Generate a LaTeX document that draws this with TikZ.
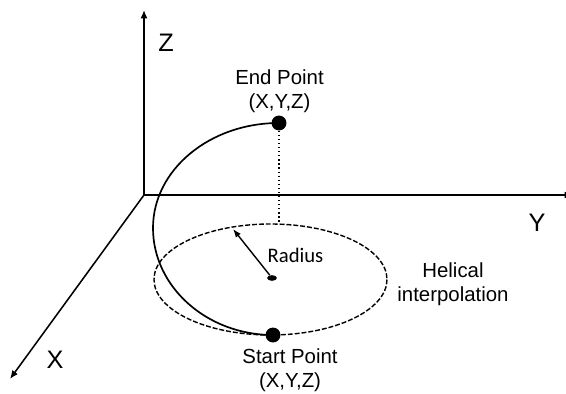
\documentclass[tikz,border=0pt]{standalone}
\usepackage{fontspec}
\setmainfont{Liberation Sans}
\newfontfamily\radiusfont{Carlito}
\usetikzlibrary{arrows.meta, shapes.geometric}
\tikzstyle{axis} = [line width=1.1pt,-{Latex[length=6pt,width=5pt]}]
\tikzstyle{lbl} = [inner sep=0pt, font=\fontsize{14.5}{17.2}\selectfont, align=center]
\tikzstyle{axlbl} = [inner sep=0pt, font=\fontsize{18}{20}\selectfont]
\tikzstyle{dot} = [circle, fill=black, inner sep=0pt, minimum size=10.6pt]

\begin{document}
\begin{tikzpicture}[x=0.025cm,y=-0.025cm]
    \useasboundingbox (0,0) rectangle (566,394);
    % axes
    \coordinate (origin) at (144,195);
    \coordinate (ztip) at (144,10);
    \coordinate (ytip) at (573,195);
    \coordinate (xtip) at (10,379);
    \draw[axis] (origin) -- (ztip);
    \draw[axis] (origin) -- (ytip);
    \draw[axis] (origin) -- (xtip);
    \node[axlbl] (zlabel) at (166,43) {Z};
    \node[axlbl] (ylabel) at (537,223) {Y};
    \node[axlbl] (xlabel) at (55,360) {X};
    % circle and path
    \draw[line width=1pt, dash pattern=on 3.5pt off 1.4pt] (270.5,279.5) ellipse [x radius=116.5, y radius=55.5];
    \node[dot] (endpt) at (279,123) {};
    \node[dot] (startpt) at (273,335) {};
    \coordinate (turn) at (153,228);
    \coordinate (rim) at (279,224);
    \coordinate (rtip) at (233,229);
    \draw[line width=1.2pt] (endpt.center) .. controls (209.4,123) and (153,170) .. (turn) .. controls (153,287) and (207,335) .. (startpt.center);
    \draw[line width=0.9pt, dotted] (endpt) -- (rim);
    \node[ellipse, fill=black, inner sep=0pt, minimum width=7pt, minimum height=4pt] (centre) at (272,278) {};
    \draw[line width=1pt,-{Latex[length=6pt,width=4.5pt]}] (centre) -- (rtip);
    % labels
    \node[lbl] (endlabel) at (279.5,91.5) {End Point\\(X,Y,Z)};
    \node[lbl] (startlabel) at (290,370) {Start Point\\(X,Y,Z)};
    \node[lbl] (helixlabel) at (453,284) {Helical\\interpolation};
    \node[lbl, font=\radiusfont\fontsize{14.7}{16}\selectfont] (radiuslabel) at (295.5,255) {Radius};
\end{tikzpicture}
\end{document}
